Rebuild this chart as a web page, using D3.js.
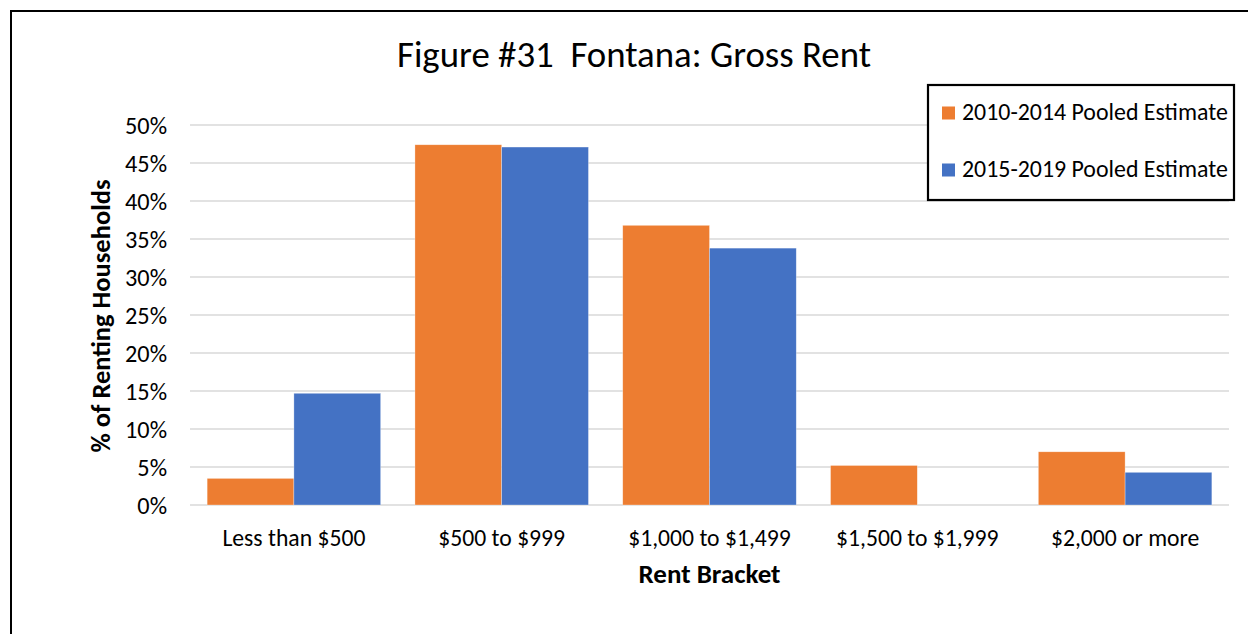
<!DOCTYPE html>
<html>
<head>
<meta charset="utf-8">
<script src="https://cdn.jsdelivr.net/npm/d3@7"></script>
<style>
  body { margin: 0; background: #fff; }
  text { font-family: Carlito, Lato, "Liberation Sans", sans-serif; fill: #000; white-space: pre; }
</style>
</head>
<body>
<div id="chart-area"></div>
<script>
const categories = ['Less than $500', '$500 to $999', '$1,000 to $1,499', '$1,500 to $1,999', '$2,000 or more'];
const seriesNames = ['2010-2014 Pooled Estimate', '2015-2019 Pooled Estimate'];
const pooled2010 = [3.5, 47.4, 36.8, 5.2, 7.0];
const pooled2015 = [14.7, 47.1, 33.8, 0, 4.3];
const yTicks = [0, 5, 10, 15, 20, 25, 30, 35, 40, 45, 50];
const colors = ['#ED7D31', '#4472C4'];

// shrink/grow a text node so it spans roughly the width seen in the picture
const fitText = (sel, w) => {
  const node = sel.node();
  const size = parseFloat(sel.attr('font-size'));
  const len = node.getComputedTextLength();
  sel.attr('font-size', (size * w / len).toFixed(2));
};

const drawChart = () => {
  const chartSize = { width: 1248, height: 634 };
  const margin = { left: 190, right: 19, top: 125, bottom: 129 };
  const width = chartSize.width - margin.left - margin.right;
  const height = chartSize.height - margin.top - margin.bottom;

  const svg = d3.select('#chart-area')
    .append('svg')
    .attr('width', chartSize.width)
    .attr('height', chartSize.height);

  svg.append('rect')
    .attr('x', 11).attr('y', 11)
    .attr('width', 1300).attr('height', 700)
    .attr('fill', 'none').attr('stroke', '#000').attr('stroke-width', 2);

  svg.append('text')
    .attr('x', 634).attr('y', 67)
    .attr('text-anchor', 'middle')
    .attr('font-size', 30)
    .text('Figure #31  Fontana: Gross Rent')
    .call(fitText, 474);

  const g = svg.append('g')
    .attr('transform', `translate(${margin.left},${margin.top})`);

  const y = d3.scaleLinear().domain([0, 50]).range([height, 0]);
  const x = d3.scaleBand().domain(categories).range([0, width])
    .paddingInner(0.165).paddingOuter(0.0825);
  const xs = d3.scaleBand().domain(seriesNames).range([0, x.bandwidth()]);

  // gridlines
  g.append('g').selectAll('line').data(yTicks).enter().append('line')
    .attr('x1', 0).attr('x2', width)
    .attr('y1', d => y(d)).attr('y2', d => y(d))
    .attr('stroke', '#d9d9d9').attr('stroke-width', 1.5);

  const yAxis = d3.axisLeft(y).tickValues(yTicks).tickFormat(d => d + '%').tickSize(0).tickPadding(23);
  const yText = g.append('g').attr('class', 'y-axis').call(yAxis)
    .call(a => a.select('.domain').remove())
    .selectAll('text').attr('font-size', 18).attr('font-family', null).attr('fill', '#000')
    .attr('dy', '0.35em');
  const y50 = yText.filter(d => d === 50);
  const ySize = 18 * 42 / y50.node().getComputedTextLength();
  yText.attr('font-size', ySize.toFixed(2));

  const xAxis = d3.axisBottom(x).tickSize(0).tickPadding(24);
  const xText = g.append('g').attr('class', 'x-axis')
    .attr('transform', `translate(0,${height})`)
    .call(xAxis)
    .call(a => a.select('.domain').remove())
    .selectAll('text').attr('font-size', 18).attr('font-family', null).attr('fill', '#000')
    .attr('dy', '0.71em');
  const x0 = xText.filter(d => d === categories[0]);
  const xSize = 18 * 143 / x0.node().getComputedTextLength();
  xText.attr('font-size', xSize.toFixed(2));

  const series = [pooled2010, pooled2015];
  series.forEach((vals, si) => {
    g.append('g').selectAll('rect').data(vals).enter().append('rect')
      .attr('x', (d, i) => x(categories[i]) + xs(seriesNames[si]))
      .attr('y', d => y(d))
      .attr('width', xs.bandwidth())
      .attr('height', d => y(0) - y(d))
      .attr('fill', colors[si])
      .attr('stroke', '#fff').attr('stroke-width', 0.6).attr('stroke-opacity', d => d > 0 ? 0.5 : 0);
  });

  svg.append('text')
    .attr('x', margin.left + width / 2).attr('y', 583)
    .attr('text-anchor', 'middle')
    .attr('font-size', 20).attr('font-weight', 'bold')
    .text('Rent Bracket')
    .call(fitText, 142);

  svg.append('text')
    .attr('transform', 'translate(110,316) rotate(-90)')
    .attr('text-anchor', 'middle')
    .attr('font-size', 20).attr('font-weight', 'bold')
    .text('% of Renting Households')
    .call(fitText, 273);

  // legend
  const lg = svg.append('g');
  lg.append('rect')
    .attr('x', 928).attr('y', 85).attr('width', 306).attr('height', 115)
    .attr('fill', '#fff').attr('stroke', '#000').attr('stroke-width', 2.2);
  seriesNames.forEach((name, i) => {
    const cy = 113 + i * 57;
    lg.append('rect')
      .attr('x', 942).attr('y', cy - 6.5).attr('width', 13).attr('height', 13)
      .attr('fill', colors[i]);
    lg.append('text')
      .attr('x', 962).attr('y', cy + 7)
      .attr('font-size', 19)
      .text(name)
      .call(fitText, 266);
  });
};

window.onload = drawChart;
</script>
</body>
</html>
